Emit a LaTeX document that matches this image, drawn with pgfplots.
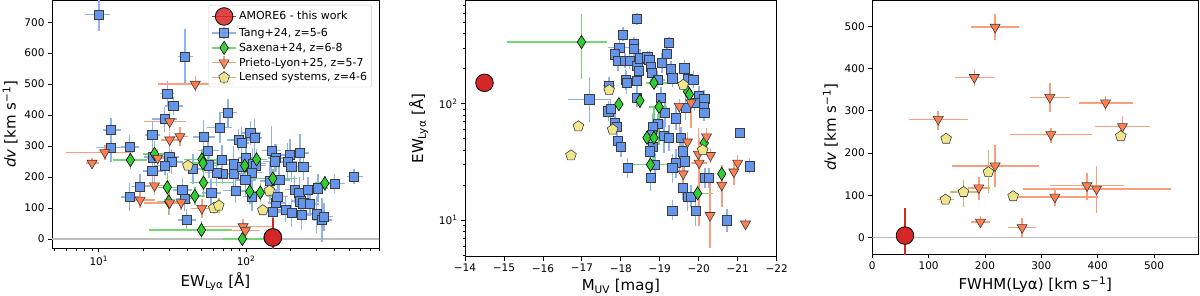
\documentclass[border=0pt]{standalone}
\usepackage{fontspec}
\setmainfont{DejaVu Sans}
\usepackage{pgfplots}
\usepackage{pgfplotstable}
\pgfplotsset{compat=1.18}
\usetikzlibrary{plotmarks}

\definecolor{cblue}{RGB}{100,149,237}
\definecolor{cblueerr}{RGB}{145,178,238}
\definecolor{cgreen}{RGB}{50,205,50}
\definecolor{cgreenerr}{RGB}{115,215,115}
\definecolor{ccoral}{RGB}{255,127,80}
\definecolor{ccoralerr}{RGB}{250,158,125}
\definecolor{ckhaki}{RGB}{240,230,140}
\definecolor{ckhakierr}{RGB}{200,190,105}
\definecolor{cred}{RGB}{214,39,40}
\definecolor{edgec}{RGB}{60,60,60}
\definecolor{zeroline}{RGB}{190,190,190}

\pgfplotsset{
  every axis/.append style={scale only axis, anchor=south west,
    axis line style={line width=0.9pt}, tick align=outside, tick pos=left,
    major tick length=4pt, minor tick length=2.3pt,
    every tick/.style={black, line width=0.8pt},
    tick label style={font=\fontsize{10.5}{12}\selectfont},
    label style={font=\fontsize{15}{18}\selectfont},
    /pgf/number format/assume math mode=true},
  errb/.style={only marks, error bars/x dir=both, error bars/y dir=both, error bars/x explicit, error bars/y explicit, error bars/error mark=none},
  tang/.style={errb, mark=square*, mark size=4.6pt, mark options={fill=cblue, draw=edgec, line width=0.6pt},
    error bars/error bar style={cblueerr, line width=1.5pt},
    legend image code/.code={\draw[cblueerr, line width=1.5pt] (0cm,0cm)--(0.85cm,0cm) (0.425cm,-0.22cm)--(0.425cm,0.22cm); \draw[##1] plot coordinates {(0.425cm,0cm)};}},
  sax/.style={errb, mark=diamond*, mark size=6.6pt, mark options={fill=cgreen, draw=black, line width=0.6pt, xscale=0.85},
    error bars/error bar style={cgreenerr, line width=1.5pt},
    legend image code/.code={\draw[cgreenerr, line width=1.5pt] (0cm,0cm)--(0.85cm,0cm) (0.425cm,-0.22cm)--(0.425cm,0.22cm); \draw[##1] plot coordinates {(0.425cm,0cm)};}},
  prieto/.style={errb, mark=triangle*, mark size=5.8pt, mark options={fill=ccoral, draw=edgec, line width=0.6pt, rotate=180},
    error bars/error bar style={ccoralerr, line width=1.5pt},
    legend image code/.code={\draw[ccoralerr, line width=1.5pt] (0cm,0cm)--(0.85cm,0cm) (0.425cm,-0.22cm)--(0.425cm,0.22cm); \draw[##1] plot coordinates {(0.425cm,0cm)};}},
  lensed/.style={errb, mark=pentagon*, mark size=5.6pt, mark options={fill=ckhaki, draw=edgec, line width=0.6pt},
    error bars/error bar style={ckhakierr, line width=1.5pt},
    legend image code/.code={\draw[ckhakierr, line width=1.5pt] (0cm,0cm)--(0.85cm,0cm) (0.425cm,-0.22cm)--(0.425cm,0.22cm); \draw[##1] plot coordinates {(0.425cm,0cm)};}},
  amore/.style={errb, mark=*, mark size=8.8pt, mark options={fill=cred, draw=black, line width=0.8pt},
    error bars/error bar style={cred, line width=1.6pt},
    legend image code/.code={\draw[cred, line width=1.6pt] (0cm,0cm)--(0.85cm,0cm); \draw[##1] plot coordinates {(0.425cm,0cm)};}},
}

% ---------------- Panel 1: dv vs EW ----------------
\pgfplotstableread[row sep=\\]{
x y exm exp ey\\
10 725 2.0 2.0 55\\
38.6 589 4 5 90\\
29.2 470 3 3 40\\
32.1 430 4 5 30\\
75.5 408 10 12 45\\
28 387 5 6 40\\
12.1 352 1.5 2 40\\
12.1 295 2.5 3 45\\
16.2 297 2 2.5 40\\
23.1 336 2.5 3 45\\
51.6 330 8 10 55\\
66.4 360 12 14 50\\
107 342 15 20 40\\
114 326 12 15 60\\
89 319 15 20 35\\
93.5 310 10 12 50\\
55.3 286 8 10 45\\
149 286 20 25 80\\
232 278 30 35 60\\
199 272 25 30 50\\
160 262 20 25 45\\
30.1 264 4 5 50\\
23.2 264 3 4 35\\
31.2 249 5 6 40\\
28.1 237 4 5 30\\
23.1 219 3 4 40\\
68.5 255 12 15 50\\
156 251 25 30 55\\
100 262 12 15 40\\
69.2 211 10 12 35\\
82.4 210 12 14 40\\
63 215 10 12 45\\
55.9 238 8 10 40\\
82.4 241 10 14 60\\
93.5 234 12 15 45\\
111 244 20 25 50\\
117 237 15 20 40\\
110 215 15 18 35\\
191 249 25 30 60\\
203 234 25 30 50\\
245 234 30 35 45\\
99 190 15 18 50\\
145 187 20 25 60\\
168 191 25 30 40\\
214 160 30 35 45\\
230 150 25 30 50\\
263 160 30 40 40\\
308 164 40 50 45\\
400 179 50 70 30\\
542 201 60 80 25\\
234 122 30 40 40\\
245 115 30 35 50\\
271 113 35 40 35\\
186 94 25 30 40\\
204 85 30 35 45\\
238 78 30 40 50\\
301 80 40 50 60\\
328 61 45 55 70\\
339 72 40 50 45\\
152 87 20 25 40\\
160 117 20 25 45\\
163 137 25 30 40\\
110 137 15 20 45\\
85 156 15 18 40\\
58 148 8 10 45\\
36.9 158 5 6 40\\
39.5 61 5 6 35\\
38.2 130 5 6 40\\
19.1 169 2.5 3 40\\
16.2 135 2 2.5 45\\
43.7 226 6 7 50\\
}\pOneTang

\pgfplotstableread[row sep=\\]{
x y exm exp ey\\
16.4 255 4 5 30\\
23.9 275 4 5 40\\
29.2 167 4 5 45\\
29.9 121 5 6 45\\
44.9 139 6 8 30\\
50.1 257 12 35 35\\
51 245 10 20 30\\
51.4 182 10 30 40\\
49.8 29 28 30 30\\
98 237 15 20 30\\
118 257 15 20 35\\
106 153 20 25 40\\
125 150 20 25 30\\
152 195 50 70 30\\
343 180 50 80 25\\
94.4 0 25 40 20\\
}\pOneSax

\pgfplotstableread[row sep=\\]{
x y exm exp ey\\
9.0 245 0.8 1 15\\
11.0 279 5 6 25\\
45.2 500 20 36 25\\
30.3 379 10 9 30\\
30.3 320 4 5 25\\
35.6 331 4 5 30\\
25.1 261 4 5 30\\
23.9 172 4 5 30\\
19.1 126 4 5 25\\
30.3 117 10 12 35\\
36.3 118 5 6 25\\
50.1 99 8 10 30\\
95.5 40 45 55 25\\
99 27 20 25 25\\
}\pOnePrieto

\pgfplotstableread[row sep=\\]{
x y exm exp ey\\
40.3 237 3 3 15\\
60.4 100 5 5 20\\
65.3 108 5 5 25\\
130 93 10 10 15\\
144 156 10 10 35\\
}\pOneLensed

% ---------------- Panel 2: EW vs MUV ----------------
\pgfplotstableread[row sep=\\]{
x y exm exp eym eyp\\
-18.41 532 0.05 0.05 60 70\\
-18.05 393 0.1 0.1 50 60\\
-17.96 302 0.3 0.3 40 50\\
-17.85 265 0.1 0.1 35 40\\
-17.93 232 0.1 0.1 40 45\\
-18.11 232 0.1 0.1 30 40\\
-18.22 234 0.1 0.1 35 45\\
-18.34 324 0.1 0.1 40 50\\
-18.34 298 0.1 0.1 40 50\\
-18.42 213 0.1 0.1 35 40\\
-18.49 245 0.1 0.1 40 50\\
-18.47 191 0.1 0.1 30 40\\
-18.68 250 0.1 0.1 30 35\\
-18.73 237 0.1 0.1 35 45\\
-18.76 207 0.1 0.1 30 40\\
-18.79 185 0.1 0.1 30 35\\
-18.94 160 0.2 0.2 25 30\\
-19.05 224 0.1 0.1 40 50\\
-19.18 270 0.1 0.1 30 35\\
-19.24 333 0.1 0.1 30 40\\
-19.29 197 0.1 0.1 30 35\\
-19.32 165 0.1 0.1 25 30\\
-19.63 201 0.1 0.1 30 35\\
-19.71 163 0.1 0.1 25 30\\
-19.86 160 0.1 0.1 25 30\\
-20.01 117 0.1 0.1 20 25\\
-20.14 110 0.1 0.1 15 20\\
-20.12 94 0.1 0.1 15 20\\
-20.14 83 0.1 0.1 12 15\\
-19.66 92 0.1 0.1 20 25\\
-19.89 101 0.1 0.1 15 20\\
-19.41 75 0.1 0.1 15 20\\
-19.13 83 0.1 0.1 20 25\\
-19.03 113 0.1 0.1 20 25\\
-18.94 67 0.1 0.1 12 15\\
-18.81 63 0.1 0.1 15 20\\
-18.79 54 0.1 0.1 10 12\\
-18.83 43 0.1 0.1 10 15\\
-18.75 39 0.1 0.1 8 10\\
-18.76 23 0.1 0.1 5 6\\
-18.88 30 0.1 0.1 6 8\\
-19.11 53 0.1 0.1 15 20\\
-19.24 51 0.1 0.1 12 15\\
-19.54 51 0.1 0.1 10 12\\
-19.6 39 0.1 0.1 10 12\\
-19.63 32 0.1 0.1 7 9\\
-19.41 31 0.1 0.1 8 10\\
-19.32 28 0.1 0.1 7 9\\
-19.58 19 0.1 0.1 4 5\\
-19.71 16 0.1 0.1 4 5\\
-19.8 16 0.1 0.1 3 4\\
-20.16 23 0.1 0.1 4 5\\
-20.26 23 0.1 0.1 4 5\\
-19.92 12 0.1 0.1 3 4\\
-19.32 12 0.1 0.1 2 3\\
-20.72 10 0.05 0.05 2 2.5\\
-21.06 56 0.05 0.05 5 6\\
-21.3 29 0.05 0.05 4 5\\
-18.17 28 0.1 0.1 5 6\\
-17.19 109 0.55 0.55 40 60\\
-17.7 143 0.15 0.15 20 25\\
-17.68 86 0.1 0.1 15 20\\
-17.74 90 0.1 0.1 15 20\\
-17.85 69 0.1 0.1 10 12\\
-17.89 63 0.1 0.1 10 12\\
-17.92 48 0.1 0.1 8 10\\
-18.0 43 0.1 0.1 8 10\\
-18.12 160 0.1 0.1 30 40\\
-18.15 152 0.1 0.1 30 40\\
-18.41 156 0.1 0.1 25 30\\
-18.41 113 0.1 0.1 20 25\\
}\pTwoTang

\pgfplotstableread[row sep=\\]{
x y exm exp eym eyp\\
-16.99 338 0.66 1.9 175 250\\
-18.85 151 0.33 0.2 10 15\\
-17.95 99 0.05 0.05 10 12\\
-18.49 106 0.05 0.05 15 15\\
-18.98 94 0.2 0.25 50 15\\
-19.71 127 0.1 0.1 10 10\\
-19.76 120 0.1 0.1 10 10\\
-18.67 51 0.1 0.1 5 5\\
-18.85 51 0.1 0.1 22 43\\
-18.76 30 0.67 0.44 5 20\\
-20.14 46 0.05 0.05 6 6\\
-20.59 25 0.05 0.05 3 3\\
-19.97 17 0.4 0.05 2 3\\
}\pTwoSax

\pgfplotstableread[row sep=\\]{
x y exm exp eym eyp\\
-19.5 95 0.05 0.05 70 15\\
-19.8 102 0.05 0.05 40 30\\
-19.71 47 0.05 0.05 10 10\\
-19.6 25 0.05 0.05 5 12\\
-20.01 31 0.2 0.2 22 20\\
-19.99 37 0.05 0.05 15 25\\
-20.2 52 0.05 0.05 8 10\\
-20.3 36 0.05 0.05 5 5\\
-20.59 20 0.05 0.05 7 10\\
-21.0 31 0.05 0.05 5 5\\
-20.9 26 0.05 0.05 6 6\\
-20.29 11 0.05 0.05 5.2 11\\
-21.2 9.3 0.05 0.05 1 1\\
}\pTwoPrieto

\pgfplotstableread[row sep=\\]{
x y exm exp eym eyp\\
-17.7 131 0 0 0 0\\
-16.91 64 0 0 0 0\\
-16.72 36 0 0 0 0\\
-17.79 60 0 0 0 0\\
-19.6 145 0 0 0 0\\
-20.1 40 0 0 0 0\\
}\pTwoLensed

% ---------------- Panel 3: dv vs FWHM ----------------
\pgfplotstableread[row sep=\\]{
x y exm exp eym eyp\\
218 498 43 43 30 30\\
181 379 34 37 20 20\\
315 332 35 35 35 35\\
414 319 47 48 20 15\\
117 280 51 52 25 20\\
444 263 48 48 25 25\\
317 244 73 73 20 15\\
218 170 77 78 50 50\\
189 118 19 20 30 25\\
381 123 66 66 35 30\\
398 115 131 132 57 55\\
324 96 69 76 20 20\\
192 37 17 17 15 15\\
266 24 25 24 25 22\\
}\pThreePrieto

\pgfplotstableread[row sep=\\]{
x y exm exp eym eyp\\
131 234 0 0 0 0\\
130 90 15 15 5 5\\
162 108 24 28 36 28\\
206 155 0 0 50 52\\
250 98 0 0 0 0\\
441 240 0 0 10 10\\
}\pThreeLensed

\begin{document}
\begin{tikzpicture}
\useasboundingbox (0pt,0pt) rectangle (1200pt,296pt);

% Panel 1
\begin{axis}[at={(52pt,47.7pt)}, width=327pt, height=247.8pt,
  xmode=log, xmin=4.81, xmax=800, ymin=-30, ymax=770,
  xtick={10,100}, xticklabels={10\textsuperscript{1},10\textsuperscript{2}},
  minor xtick={5,6,7,8,9,20,30,40,50,60,70,80,90,200,300,400,500,600,700,800},
  ytick={0,100,...,700},
  xlabel={EW\textsubscript{Lyα} [Å]}, ylabel={\textit{dv} [km s\textsuperscript{−1}]},
  legend style={at={(0.978,0.982)}, anchor=north east, draw=black!20, rounded corners=2pt,
    fill=white, fill opacity=0.85, text opacity=1, font=\fontsize{11}{13}\selectfont,
    cells={anchor=west}, row sep=0.8pt, inner sep=2.5pt},
  legend cell align=left]
\addplot[zeroline, line width=1.5pt, forget plot] coordinates {(4,0) (900,0)};
\addplot[amore] coordinates {(152,5) +- (0,62)};
\addlegendentry{AMORE6 - this work}
\addplot[tang] table[x=x,y=y,x error minus=exm,x error plus=exp,y error=ey] {\pOneTang};
\addlegendentry{Tang+24, z=5-6}
\addplot[sax] table[x=x,y=y,x error minus=exm,x error plus=exp,y error=ey] {\pOneSax};
\addlegendentry{Saxena+24, z=6-8}
\addplot[prieto] table[x=x,y=y,x error minus=exm,x error plus=exp,y error=ey] {\pOnePrieto};
\addlegendentry{Prieto-Lyon+25, z=5-7}
\addplot[lensed] table[x=x,y=y,x error minus=exm,x error plus=exp,y error=ey] {\pOneLensed};
\addlegendentry{Lensed systems, z=4-6}
\addplot[amore, forget plot] coordinates {(152,5) +- (0,62)};
\end{axis}

% Panel 2
\begin{axis}[at={(465pt,39.3pt)}, width=311.7pt, height=256.2pt,
  x dir=reverse, xmin=-22, xmax=-14, ymode=log, ymin=4.87, ymax=768,
  xtick={-22,-21,-20,-19,-18,-17,-16,-15,-14},
  xticklabels={−22,−21,−20,−19,−18,−17,−16,−15,−14},
  ytick={10,100}, yticklabels={10\textsuperscript{1},10\textsuperscript{2}},
  minor ytick={5,6,7,8,9,20,30,40,50,60,70,80,90,200,300,400,500,600,700},
  xlabel={M\textsubscript{UV} [mag]}, ylabel={EW\textsubscript{Lyα} [Å]},
  ylabel style={xshift=0pt, yshift=4pt}]
\addplot[tang] table[x=x,y=y,x error minus=exm,x error plus=exp,y error minus=eym,y error plus=eyp] {\pTwoTang};
\addplot[sax] table[x=x,y=y,x error minus=exm,x error plus=exp,y error minus=eym,y error plus=eyp] {\pTwoSax};
\addplot[prieto] table[x=x,y=y,x error minus=exm,x error plus=exp,y error minus=eym,y error plus=eyp] {\pTwoPrieto};
\addplot[lensed] table[x=x,y=y,x error minus=exm,x error plus=exp,y error minus=eym,y error plus=eyp] {\pTwoLensed};
\addplot[amore] coordinates {(-14.5,151) +- (0,0)};
\end{axis}

% Panel 3
\begin{axis}[at={(872.3pt,41.7pt)}, width=326pt, height=253.8pt,
  xmin=0, xmax=578.6, ymin=-39.3, ymax=561,
  xtick={0,100,...,500}, ytick={0,100,...,500},
  xlabel={FWHM(Lyα) [km s\textsuperscript{−1}]}, ylabel={\textit{dv} [km s\textsuperscript{−1}]}]
\addplot[zeroline, line width=1.5pt, forget plot] coordinates {(0,0) (600,0)};
\addplot[prieto] table[x=x,y=y,x error minus=exm,x error plus=exp,y error minus=eym,y error plus=eyp] {\pThreePrieto};
\addplot[lensed] table[x=x,y=y,x error minus=exm,x error plus=exp,y error minus=eym,y error plus=eyp] {\pThreeLensed};
\addplot[amore] coordinates {(58,5) +- (0,65)};
\end{axis}
\end{tikzpicture}
\end{document}
